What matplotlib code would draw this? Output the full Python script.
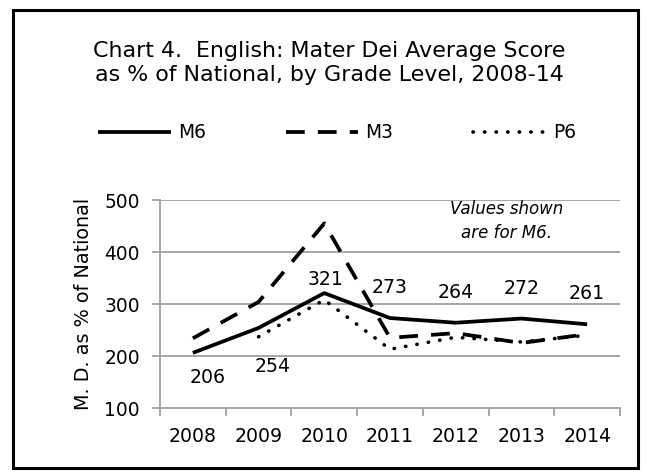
import numpy as np
import matplotlib.pyplot as plt
from matplotlib.patches import Rectangle

# ── data ──────────────────────────────────────
years = ["2008", "2009", "2010", "2011", "2012", "2013", "2014"]
m6 = [206, 254, 321, 273, 264, 272, 261]
m3 = [234, 304, 455, 235, 244, 225, 242]
p6 = [np.nan, 237, 308, 213, 236, 227, 240]
y_ticks = [100, 200, 300, 400, 500]

title = "Chart 4.  English: Mater Dei Average Score\nas % of National, by Grade Level, 2008-14"
note = "Values shown\nare for M6."

plt.rcParams["font.family"] = ["DejaVu Sans"]

fig = plt.figure(figsize=(6.47, 4.74), dpi=100)
ax = fig.add_axes([160 / 647, 1 - 408 / 474, 460 / 647, 208 / 474])

x = np.arange(len(years))
ax.plot(x, m6, color="black", lw=2.7, solid_capstyle="butt", label="M6")
ax.plot(x, m3, color="black", lw=2.7, dashes=(5, 3.5), label="M3")
ax.plot(x, p6, color="black", lw=2.6, dashes=(0.1, 3.1),
        dash_capstyle="round", label="P6")

# data labels for M6 (offsets in points)
offsets = [(11, -18), (10, -28), (1, 9.5), (0, 22), (0, 22), (0, 22), (0, 22)]
for xi, v, off in zip(x, m6, offsets):
    ax.annotate(str(v), (xi, v), xytext=off, textcoords="offset points",
                ha="center", va="center", fontsize=13.6)

ax.text(4.78, 460, note, ha="center", va="center", fontsize=12,
        style="italic", linespacing=1.45)

# axes styling
grey = "#A6A6A6"
ax.set_xlim(-0.5, len(years) - 0.5)
ax.set_ylim(100, 500)
ax.set_yticks(y_ticks)
ax.set_yticklabels([str(t) for t in y_ticks], fontsize=13.4)
ax.set_xticks(np.arange(-0.5, len(years)), minor=False)
ax.set_xticklabels([])
ax.set_xticks(x, minor=True)
ax.set_xticklabels(years, minor=True, fontsize=13.6)
ax.tick_params(axis="x", which="major", length=5.5, color=grey, width=1.4)
ax.tick_params(axis="x", which="minor", length=0, pad=13.5)
ax.tick_params(axis="y", length=5.5, color=grey, width=1.4, pad=9)
ax.yaxis.grid(True, color=grey, lw=1.4)
ax.set_axisbelow(True)
for s in ["top", "right"]:
    ax.spines[s].set_visible(False)
for s in ["left", "bottom"]:
    ax.spines[s].set_color(grey)
    ax.spines[s].set_linewidth(1.4)
ax.set_ylabel("M. D. as % of National", fontsize=13.8, labelpad=8)

fig.text(329 / 647, 1 - 63 / 474, title, ha="center", va="center",
         fontsize=15.9, linespacing=1.3)

fig.legend(loc="center", bbox_to_anchor=(337 / 647, 1 - 133 / 474), ncol=3,
           frameon=False, fontsize=13.4, handlelength=3.9, handletextpad=0.37,
           columnspacing=4.3, borderpad=0, borderaxespad=0)

# outer border
fig.patches.append(Rectangle((12.7 / 647, 6 / 474), 625 / 647, 458 / 474,
                             transform=fig.transFigure, fill=False,
                             edgecolor="black", lw=2.2))

fig.savefig("out.png", dpi=100)
